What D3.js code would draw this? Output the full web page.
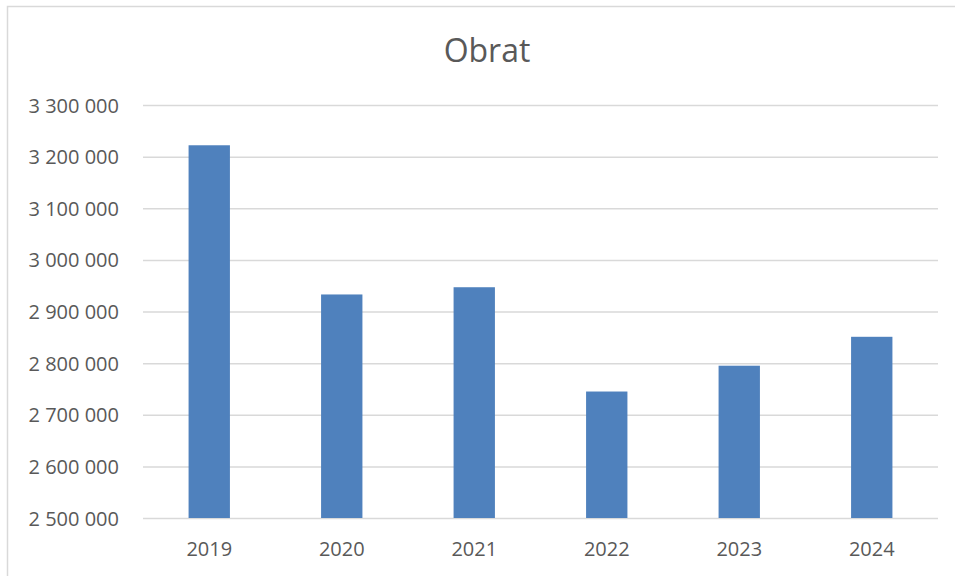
<!DOCTYPE html>
<html>
<head>
<meta charset="utf-8">
<script src="https://cdn.jsdelivr.net/npm/d3@7"></script>
<style>
  body { margin: 0; background: #fff; }
  svg { display: block; }
  text { font-family: "Open Sans", "Noto Sans", sans-serif; fill: #595959; }
</style>
</head>
<body>
<svg width="955" height="576"></svg>
<script>
var years = ["2019", "2020", "2021", "2022", "2023", "2024"];
var obrat = [3222000, 2933000, 2947000, 2745000, 2795000, 2851000];
var yTicks = [2500000, 2600000, 2700000, 2800000, 2900000, 3000000, 3100000, 3200000, 3300000];

var svg = d3.select("svg"),
    margin = {top: 105, right: 17, bottom: 58, left: 143},
    width = +svg.attr("width") - margin.left - margin.right,
    height = +svg.attr("height") - margin.top - margin.bottom;

// chart frame
svg.append("rect")
    .attr("x", 7.5).attr("y", 6.5)
    .attr("width", 960).attr("height", 600)
    .attr("fill", "none")
    .attr("stroke", "#d9d9d9")
    .attr("stroke-width", 1.5);

svg.append("text")
    .attr("x", 487).attr("y", 62)
    .attr("text-anchor", "middle")
    .style("font-size", "32px")
    .text("Obrat");

var x = d3.scaleBand().domain(years).range([0, width])
    .paddingInner(0.688).paddingOuter(0.344);
var y = d3.scaleLinear().domain([2500000, 3300000]).range([height, 0]);

var g = svg.append("g")
    .attr("transform", "translate(" + margin.left + "," + margin.top + ")");

var fmt = function(d) { return d3.format(",")(d).replace(/,/g, " "); };

// gridlines + y labels
var yAxis = g.append("g")
    .attr("class", "axis axis--y")
    .call(d3.axisLeft(y).tickValues(yTicks).tickSize(-width).tickFormat(fmt));
yAxis.select(".domain").remove();
yAxis.selectAll("line").attr("stroke", "#d9d9d9").attr("stroke-width", 1.5);
yAxis.selectAll("text")
    .attr("x", -24)
    .attr("dy", "0.35em")
    .style("font-size", "20px")
    .style("font-family", "'Open Sans', sans-serif")
    .style("fill", "#595959");

g.selectAll(".bar")
    .data(obrat)
    .enter().append("rect")
        .attr("class", "bar")
        .attr("x", function(d, i) { return x(years[i]); })
        .attr("y", function(d) { return y(d); })
        .attr("width", x.bandwidth())
        .attr("height", function(d) { return height - y(d); })
        .attr("fill", "#4f81bd");

// x axis labels
var xAxis = g.append("g")
    .attr("class", "axis axis--x")
    .attr("transform", "translate(0," + height + ")")
    .call(d3.axisBottom(x).tickSize(0));
xAxis.select(".domain").remove();
xAxis.selectAll("text")
    .attr("y", 31)
    .attr("dy", "0.35em")
    .style("font-size", "20px")
    .style("font-family", "'Open Sans', sans-serif")
    .style("fill", "#595959");
</script>
</body>
</html>
